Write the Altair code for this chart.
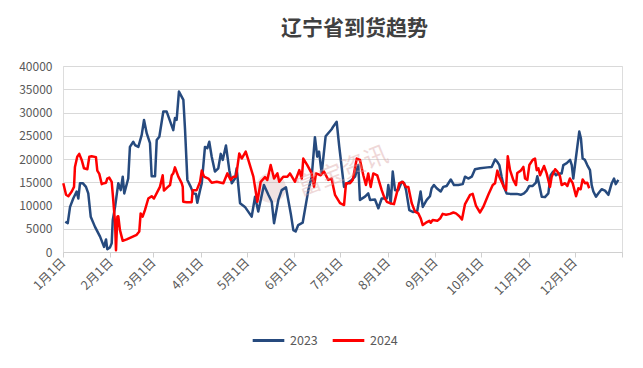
import altair as alt
import pandas as pd

# ---- data (day offset from Jan 1, value) ----
day_2023 = [1.5, 3.1, 4.6, 6.7, 8.9, 10.0, 11.1, 12.9, 15.0, 16.5, 18.1, 20.9, 24.2, 26.8, 28.1, 28.9, 30.7, 31.8,
            32.5, 34.0, 36.1, 37.7, 39.0, 40.0, 42.6, 43.7, 45.9, 47.0, 49.2, 51.4, 52.9, 54.7, 56.8, 57.9, 60.1,
            61.2, 62.9, 65.5, 67.7, 72.0, 73.1, 74.2, 75.7, 78.6, 79.7, 81.2, 83.4, 85.1, 86.8, 87.7, 89.5, 90.6,
            92.7, 94.2, 95.5, 97.1, 99.2, 101.4, 103.0, 104.3, 106.4, 108.6, 110.2, 112.3, 113.4, 115.6, 118.8,
            123.2, 125.4, 127.5, 131.2, 134.1, 136.3, 137.8, 140.6, 142.8, 145.6, 148.7, 150.4, 151.9, 153.6,
            156.5, 160.2, 162.4, 164.5, 166.0, 167.2, 168.9, 171.5, 175.4, 176.5, 178.7, 180.4, 183.5, 185.6,
            188.5, 190.7, 192.8, 193.9, 197.2, 199.3, 200.5, 203.7, 205.9, 208.1, 211.4, 212.4, 214.0, 215.3,
            216.8, 218.9, 221.2, 222.7, 224.0, 226.1, 228.7, 231.3, 233.5, 234.9, 237.5, 239.6, 240.7, 242.2,
            244.0, 246.6, 248.3, 250.5, 253.2, 255.3, 258.1, 261.0, 262.5, 264.6, 266.9, 269.0, 272.3, 277.1,
            279.9, 282.1, 283.6, 284.9, 286.4, 287.9, 289.7, 291.9, 296.3, 298.9, 301.0, 302.8, 304.5, 306.7,
            308.8, 309.7, 311.0, 312.6, 314.7, 316.9, 318.4, 320.1, 321.9, 323.4, 325.6, 326.7, 328.9, 331.1,
            332.2, 333.2, 335.0, 337.1, 338.2, 339.3, 340.8, 342.3, 344.1, 345.2, 346.3, 348.0, 349.5, 351.7,
            353.9, 356.1, 358.3, 359.8, 360.9, 362.6]
val_2023 = [6500, 6200, 9700, 11500, 13000, 11500, 14800, 14800, 14000, 12600, 7600, 5400, 3300, 1100, 2700, 600, 1000, 1900,
            6900, 9700, 14800, 13300, 16200, 12600, 15800, 22600, 23700, 23000, 22600, 25200, 28400, 25500, 23400, 16300, 16300,
            24100, 24800, 30200, 30200, 26200, 28800, 28400, 34500, 32700, 26200, 15500, 14000, 12600, 12500, 10600, 13300, 14800,
            22600, 22300, 23700, 20500, 17300, 18000, 21100, 19800, 22900, 17600, 14800, 15800, 18000, 10500, 9700,
            7600, 11900, 8700, 14400, 12300, 10800, 6200, 11200, 13300, 13900, 8300, 4700, 4400, 5800,
            6300, 13300, 16200, 24700, 20500, 21600, 16900, 24900, 26400, 27000, 28000, 22600, 14000, 14800,
            15500, 16200, 18700, 11200, 11900, 12600, 11200, 11300, 9400, 11500, 11500, 14400, 10500, 17300,
            13300, 13300, 15100, 14800, 13300, 9000, 8600, 8800, 13000, 9700, 11200, 12000, 13700, 14400,
            13700, 13000, 14000, 14200, 15600, 14400, 14400, 14600, 16200, 15800, 16200, 17800, 18000, 18200,
            18300, 19900, 19400, 18700, 16200, 14000, 12600, 12500, 12500, 12300, 12600, 13200, 14200, 14200,
            14900, 16300, 14400, 11900, 11800, 12600, 16500, 17300, 16500, 16900, 16900, 18700, 19100, 19800,
            18700, 15800, 20500, 25900, 24400, 20100, 19800, 18700, 17600, 14400, 13000, 11900, 12600, 13500,
            13200, 12300, 14800, 15800, 14600, 15500]

day_2024 = [0.2, 2.0, 3.5, 5.7, 7.2, 7.8, 9.3, 10.6, 12.2, 13.7, 15.9, 17.2, 18.7, 21.5, 22.4, 23.7, 25.3, 26.8, 28.1,
            28.9, 30.2, 31.8, 32.8, 34.0, 34.6, 35.5, 36.1, 37.2, 39.0, 41.6, 48.1, 49.8, 50.7, 52.0, 53.5, 55.7,
            57.9, 59.4, 62.2, 63.3, 65.1, 65.9, 68.1, 69.9, 71.0, 72.0, 73.1, 75.3, 77.5, 78.2, 78.5, 80.8, 84.0,
            84.7, 87.3, 89.5, 90.6, 92.1, 94.9, 97.1, 100.4, 104.7, 107.3, 109.5, 111.2, 113.0, 115.1, 116.7,
            119.3, 121.0, 124.3, 126.9, 129.1, 131.9, 133.4, 135.6, 137.8, 140.0, 141.2, 143.8, 146.5, 148.2,
            151.5, 154.3, 155.9, 156.9, 159.5, 162.4, 163.9, 165.2, 168.3, 170.4, 173.2, 175.4, 176.5, 177.6,
            180.9, 183.5, 184.8, 187.4, 189.2, 191.8, 193.9, 196.1, 197.8, 199.3, 200.9, 202.6, 205.2, 208.1,
            209.6, 211.4, 213.5, 216.1, 217.9, 219.6, 221.8, 224.0, 225.5, 227.7, 229.8, 232.0, 233.6, 234.9,
            237.0, 239.2, 240.1, 241.4, 244.4, 246.2, 247.9, 250.1, 252.7, 254.9, 256.6, 258.8, 260.5, 262.5,
            265.8, 267.5, 269.7, 272.3, 274.4, 277.7, 280.6, 282.1, 283.6, 284.9, 286.4, 287.9, 289.3, 290.4,
            291.9, 294.0, 295.8, 296.6, 298.9, 300.6, 301.7, 303.2, 304.5, 306.7, 308.2, 309.3, 310.4, 311.5,
            314.1, 315.8, 318.0, 319.1, 321.3, 322.8, 324.5, 325.6, 327.8, 329.3, 331.0, 332.8, 335.0, 336.5,
            338.0, 339.3, 340.8, 342.3, 343.6]
val_2024 = [14800, 12300, 12000, 13000, 14000, 18300, 20500, 21100, 19800, 18000, 17800, 20500, 20600, 20400, 17500, 16800, 14600, 14800, 14900,
            15800, 16000, 15100, 11200, 6200, 400, 7600, 7700, 4700, 2400, 2700, 3700, 4400, 8300, 7600, 9000, 11500,
            12000, 11500, 13300, 14000, 16500, 13200, 13900, 14400, 16500, 16900, 18200, 16200, 14800, 14000, 10800, 10700, 10700,
            13300, 13300, 15100, 17500, 16200, 15800, 14900, 15100, 14800, 16900, 15500, 16200, 16200, 21200, 20100,
            21600, 19800, 16200, 10800, 15100, 16100, 15500, 18700, 15800, 16900, 15100, 16200, 16200, 16900,
            15100, 17600, 15800, 20100, 18700, 16900, 14000, 16900, 16500, 17300, 15500, 15800, 14000, 12300,
            10500, 10100, 14800, 14800, 15500, 20100, 19800, 16500, 14400, 16900, 14000, 16900, 16500, 13300,
            11900, 10800, 10500, 10300, 12600, 14800, 15100, 14000, 14000, 10500, 8700, 8300, 7200, 5800,
            6300, 6700, 6300, 6900, 6700, 7200, 8200, 8000, 8200, 8500, 8300, 7700, 7000, 10300,
            12300, 12500, 9900, 8500, 9700, 12300, 14400, 14800, 17500, 16200, 15100, 14000, 13300, 20600,
            17600, 15500, 14400, 17000, 17500, 18300, 15800, 15500, 18700, 19800, 20100, 17600, 18000, 16500,
            18500, 16900, 14000, 16200, 17800, 17300, 16300, 14400, 14800, 14200, 15800, 14800, 12000, 13700,
            13500, 15600, 14800, 14900, 13700]

series_names = ["2023", "2024"]
series_colors = ["#264A7E", "#FF0000"]
month_starts = [0, 31, 59, 90, 120, 151, 181, 212, 243, 273, 304, 334, 365]
y_ticks = [0, 5000, 10000, 15000, 20000, 25000, 30000, 35000, 40000]
title_text = "辽宁省到货趋势"
watermark_text = "富宝资讯"

df = pd.concat([
    pd.DataFrame({"day": day_2023, "value": val_2023, "series": "2023"}),
    pd.DataFrame({"day": day_2024, "value": val_2024, "series": "2024"}),
], ignore_index=True)

font = "Noto Sans CJK SC"

label_expr = ("datum.value >= 365 ? '' : "
              "[" + ",".join(f"'{i+1}月1日'" for i in range(12)) + ",''][indexof(" +
              str(month_starts) + ", datum.value)]")

lines = alt.Chart(df).mark_line(strokeWidth=2.5, strokeJoin="round").encode(
    x=alt.X("day:Q",
            scale=alt.Scale(domain=[0, 365], nice=False, zero=False),
            axis=alt.Axis(values=month_starts, labelExpr=label_expr, title=None,
                          labelAngle=-45, labelAlign="right", labelBaseline="middle",
                          labelFontSize=12.5, labelColor="#595959", labelFont=font,
                          labelPadding=3, labelOverlap=False,
                          domainColor="#d0d0d0", tickColor="#d0d0d0", tickSize=5,
                          grid=False)),
    y=alt.Y("value:Q",
            scale=alt.Scale(domain=[0, 40000], nice=False),
            axis=alt.Axis(values=y_ticks, format="d", title=None, domain=False, ticks=False,
                          labelFontSize=12, labelColor="#595959", labelFont=font,
                          labelPadding=11, gridColor="#d9d9d9", gridWidth=1)),
    color=alt.Color("series:N",
                    scale=alt.Scale(domain=series_names, range=series_colors),
                    legend=alt.Legend(title=None, orient="none", direction="horizontal",
                                      legendX=188, legendY=257,
                                      symbolType="stroke", symbolSize=1000, symbolStrokeWidth=3,
                                      labelFontSize=12.5, labelColor="#595959", labelFont=font,
                                      columnPadding=8, labelOffset=4)),
)

wm = alt.Chart(pd.DataFrame({"t": [watermark_text]})).mark_text(
    fontSize=24, font=font, angle=338, color="#d9a0a0", opacity=0.4
).encode(text="t:N", x=alt.value(280), y=alt.value(106))

logo = alt.Chart(pd.DataFrame({"t": [watermark_text]})).mark_circle(
    size=900, color="#c98f8f", opacity=0.25
).encode(x=alt.value(208), y=alt.value(122))

chart = alt.layer(logo, lines, wm).properties(
    width=559, height=186,
    title=alt.TitleParams(title_text, fontSize=21, font=font, fontWeight="bold",
                          color="#404040", anchor="middle", dx=12, offset=21),
    autosize=alt.AutoSizeParams(type="none"),
    padding={"left": 55, "top": 58, "right": 13, "bottom": 108},
).configure_view(stroke=None).configure(background="white")

chart.save("out.html", embed_options={"renderer": "svg", "actions": False})
